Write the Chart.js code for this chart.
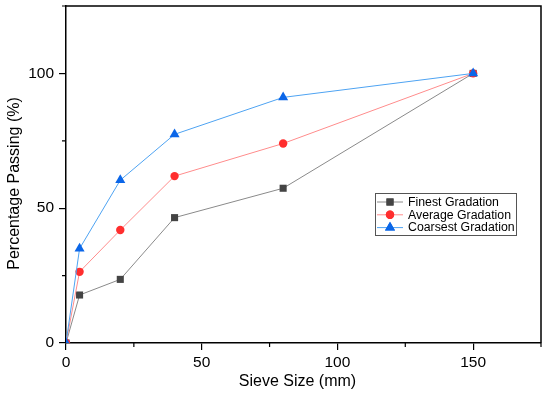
<!DOCTYPE html>
<html>
<head>
<meta charset="utf-8">
<script src="https://cdn.jsdelivr.net/npm/chart.js@4/dist/chart.umd.min.js"></script>
<style>
  html, body { margin: 0; padding: 0; background: #fff; }
  #wrap { width: 550px; height: 395px; }
</style>
</head>
<body>
<div id="wrap"><canvas id="chart" width="550" height="395"></canvas></div>
<script>
// --- DATA ---
const sieveSizes = [0, 5, 20, 40, 80, 150];
const finest = [0, 17.8, 23.6, 46.5, 57.4, 100];
const average = [0, 26.4, 41.9, 61.9, 74.0, 100];
const coarsest = [0, 35.0, 60.4, 77.4, 91.1, 100];
const seriesNames = ['Finest Gradation', 'Average Gradation', 'Coarsest Gradation'];
const xTicks = [0, 50, 100, 150];
const yTicks = [0, 50, 100];
const xTitle = 'Sieve Size (mm)';
const yTitle = 'Percentage Passing (%)';

const FONT = '"Liberation Sans", Arial, Helvetica, sans-serif';

// style per series
const styles = [
  { line: '#8a8a8a', marker: '#444444', shape: 'rect', radius: 5 },
  { line: '#ff8c8c', marker: '#ff2e2e', shape: 'circle', radius: 4.2 },
  { line: '#4ea3f2', marker: '#0b66e8', shape: 'triangle', radius: 5.8 }
];
const seriesData = [finest, average, coarsest];

const toPoints = (ys) => sieveSizes.map((x, i) => ({ x: x, y: ys[i] }));

// frame, minor ticks, axis titles and the inside legend
const framePlugin = {
  id: 'frame',
  afterDraw(chart) {
    const { ctx, chartArea: a, scales } = chart;
    ctx.save();
    ctx.strokeStyle = '#000';
    ctx.lineWidth = 1.5;
    ctx.beginPath();
    ctx.moveTo(a.left, a.top);
    ctx.lineTo(a.right, a.top);
    ctx.lineTo(a.right, a.bottom);
    ctx.stroke();

    // minor ticks at 25
    ctx.lineWidth = 1.2;
    ctx.beginPath();
    for (let v = 25; v <= scales.x.max; v += 50) {
      const px = scales.x.getPixelForValue(v);
      ctx.moveTo(px, a.bottom);
      ctx.lineTo(px, a.bottom + 4);
    }
    for (let v = 25; v <= scales.y.max; v += 50) {
      const py = scales.y.getPixelForValue(v);
      ctx.moveTo(a.left, py);
      ctx.lineTo(a.left - 4, py);
    }
    ctx.stroke();

    // axis titles
    ctx.fillStyle = '#000';
    ctx.font = '16px ' + FONT;
    ctx.textAlign = 'center';
    ctx.textBaseline = 'middle';
    ctx.fillText(xTitle, 297.5, 382);
    ctx.save();
    ctx.translate(15, 183.5);
    ctx.rotate(-Math.PI / 2);
    ctx.fillText(yTitle, 0, 0);
    ctx.restore();

    // legend box
    const bx = 375, by = 193, bw = 141, bh = 42;
    ctx.textAlign = 'left';
    ctx.lineWidth = 1;
    ctx.strokeStyle = '#555';
    ctx.fillStyle = '#fff';
    ctx.fillRect(bx, by, bw, bh);
    ctx.strokeRect(bx + 0.5, by + 0.5, bw, bh);
    ctx.font = '12.3px ' + FONT;
    seriesNames.forEach((name, i) => {
      const y = by + 9 + i * 12.8;
      const st = styles[i];
      ctx.strokeStyle = st.line;
      ctx.lineWidth = 1;
      ctx.beginPath();
      ctx.moveTo(bx + 2, y);
      ctx.lineTo(bx + 28, y);
      ctx.stroke();
      ctx.fillStyle = st.marker;
      Chart.helpers.drawPoint(ctx, {
        pointStyle: st.shape, radius: st.radius, rotation: 0, borderWidth: 0
      }, bx + 15, y);
      ctx.fill();
      ctx.fillStyle = '#000';
      ctx.fillText(name, bx + 33, y + 0.5);
    });
    ctx.restore();
  }
};

new Chart(document.getElementById('chart'), {
  type: 'line',
  data: {
    datasets: seriesData.map((ys, i) => ({
      label: seriesNames[i],
      data: toPoints(ys),
      borderColor: styles[i].line,
      borderWidth: 1,
      backgroundColor: styles[i].marker,
      pointBackgroundColor: styles[i].marker,
      pointBorderColor: styles[i].marker,
      pointBorderWidth: 0,
      pointStyle: styles[i].shape,
      pointRadius: styles[i].radius,
      order: 2 - i,
      tension: 0
    }))
  },
  options: {
    responsive: false,
    animation: false,
    layout: { padding: { left: 0, right: 9, top: 6, bottom: 0 } },
    plugins: { legend: { display: false }, tooltip: { enabled: false } },
    scales: {
      x: {
        type: 'linear',
        min: 0, max: 175,
        afterFit(scale) { scale.height = 52; scale.paddingLeft = 0; scale.paddingRight = 0; },
        afterBuildTicks(scale) { scale.ticks = xTicks.map(v => ({ value: v })); },
        grid: { display: true, drawOnChartArea: false, tickLength: 7, color: '#000', lineWidth: 1.2 },
        border: { display: true, color: '#000', width: 1.5 },
        ticks: { color: '#000', padding: 3, font: { family: FONT, size: 15.5 } },
        title: { display: false }
      },
      y: {
        type: 'linear',
        min: 0, max: 125,
        afterFit(scale) { scale.width = 66; scale.paddingTop = 0; scale.paddingBottom = 0; },
        afterBuildTicks(scale) { scale.ticks = yTicks.map(v => ({ value: v })); },
        grid: { display: true, drawOnChartArea: false, tickLength: 7, color: '#000', lineWidth: 1.2 },
        border: { display: true, color: '#000', width: 1.5 },
        ticks: { color: '#000', padding: 5, font: { family: FONT, size: 15.5 } },
        title: { display: false }
      }
    }
  },
  plugins: [framePlugin]
});
</script>
</body>
</html>
